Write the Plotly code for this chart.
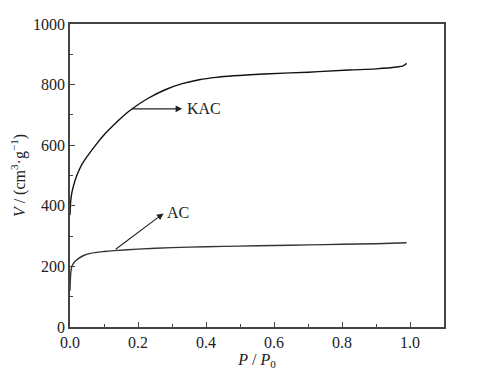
import plotly.graph_objects as go

kac_p = [0, 0.002, 0.005, 0.01, 0.02, 0.035, 0.05, 0.08, 0.105, 0.13, 0.155, 0.18, 0.23, 0.28, 0.33, 0.38, 0.43, 0.48, 0.57, 0.7, 0.82, 0.9, 0.96, 0.98, 0.99]
kac_v = [370, 415, 440, 465, 500, 537, 562, 607, 640, 668, 695, 718, 755, 783, 803, 816, 824, 829, 835, 841, 848, 852, 858, 862, 870]
ac_p = [0, 0.002, 0.005, 0.01, 0.02, 0.04, 0.06, 0.1, 0.13, 0.2, 0.3, 0.4, 0.5, 0.6, 0.7, 0.8, 0.9, 0.99]
ac_v = [120, 175, 198, 210, 222, 236, 243, 249, 252, 257, 262, 265, 267, 269, 271, 273, 275, 278]

fig = go.Figure()
fig.add_trace(go.Scatter(x=kac_p, y=kac_v, mode="lines", line=dict(color="#111", width=1.4, shape="spline", smoothing=1), showlegend=False))
fig.add_trace(go.Scatter(x=ac_p, y=ac_v, mode="lines", line=dict(color="#333", width=1.4, shape="spline", smoothing=0.8), showlegend=False))

font = dict(family="Liberation Serif, Times New Roman, serif", size=16, color="#222")
fig.add_annotation(x=0.33, y=720, ax=0.178, ay=720, xref="x", yref="y", axref="x", ayref="y",
                   showarrow=True, arrowhead=2, arrowsize=1.2, arrowwidth=1.1, arrowcolor="#222", text="")
fig.add_annotation(x=0.338, y=722, xref="x", yref="y", text="KAC", showarrow=False, xanchor="left", font=font)
fig.add_annotation(x=0.275, y=375, ax=0.13, ay=253, xref="x", yref="y", axref="x", ayref="y",
                   showarrow=True, arrowhead=2, arrowsize=1.2, arrowwidth=1.1, arrowcolor="#222", text="")
fig.add_annotation(x=0.28, y=378, xref="x", yref="y", text="AC", showarrow=False, xanchor="left", font=font)

axis_common = dict(showgrid=False, zeroline=False, showline=True, linecolor="#444", linewidth=1.5,
                   mirror=True, ticks="inside", ticklen=5, tickcolor="#444", tickwidth=1.2,
                   tickfont=font, automargin=False)
fig.update_xaxes(range=[0, 1.1], tickvals=[0, 0.2, 0.4, 0.6, 0.8, 1.0], ticktext=["0.0", "0.2", "0.4", "0.6", "0.8", "1.0"],
                 minor=dict(ticks="inside", ticklen=3, tickcolor="#444", dtick=0.1, tick0=0),
                 title=dict(text="<i>P</i> / <i>P</i><sub>0</sub>", font=font, standoff=2), **axis_common)
fig.update_yaxes(range=[0, 1000], dtick=200,
                 minor=dict(ticks="inside", ticklen=3, tickcolor="#444", dtick=100),
                 title=dict(text="<i>V</i> / (cm<sup>3</sup>·g<sup>−1</sup>)", font=font, standoff=8), **axis_common)
fig.update_layout(width=483, height=374, margin=dict(l=62, r=47, t=16, b=55),
                  plot_bgcolor="white", paper_bgcolor="white")
fig.write_html("out.html")
